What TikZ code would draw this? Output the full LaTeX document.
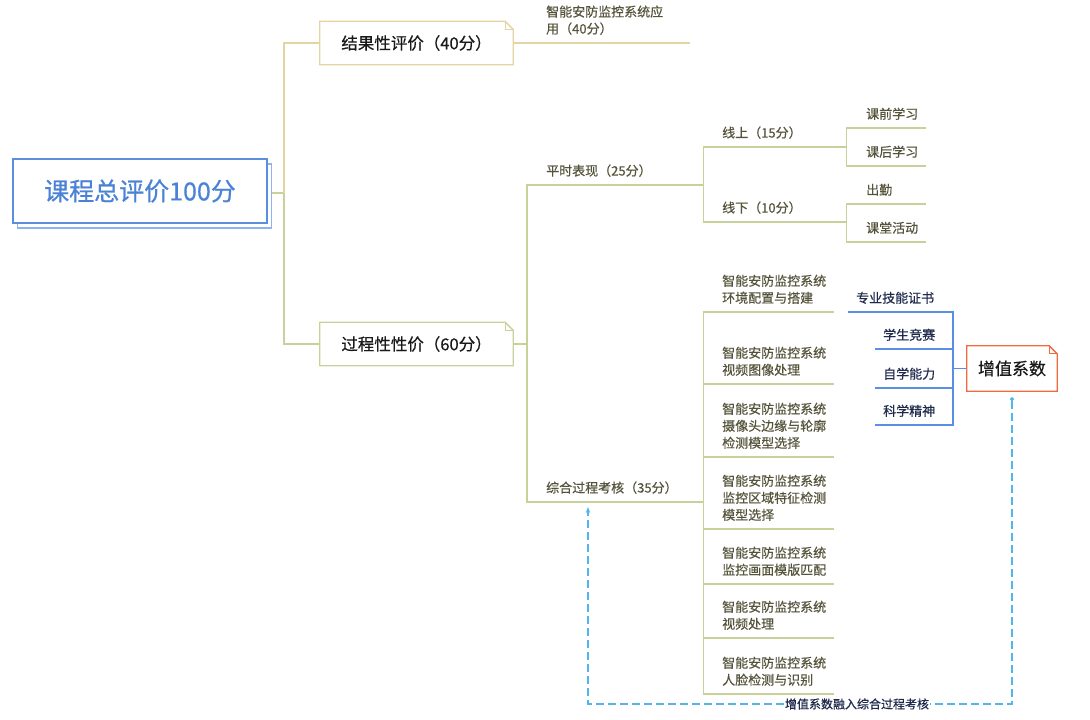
\documentclass[tikz,border=0pt]{standalone}
\usepackage{fontspec}
\newfontfamily\cjk[FakeBold=0.5]{Noto Sans CJK SC}
\usetikzlibrary{arrows.meta}
\definecolor{rootc}{HTML}{5B8EDC}
\definecolor{rootshade}{HTML}{8FB3EC}
\definecolor{roottext}{HTML}{4A82D6}
\definecolor{tanc}{HTML}{E3D4A2}
\definecolor{olivec}{HTML}{C7D199}
\definecolor{leaftext}{HTML}{55533A}
\definecolor{bluec}{HTML}{5A8FE3}
\definecolor{navy}{HTML}{1F2A4C}
\definecolor{orng}{HTML}{F2693B}
\definecolor{dashc}{HTML}{52B5EC}
\newcommand{\dogear}[2]{%
  \draw[#2, line width=1.3pt] (#1.south west) -- (#1.north west) -- ([xshift=-8pt]#1.north east) -- ([yshift=-8pt]#1.north east) -- (#1.south east) -- cycle;
  \draw[#2, line width=0.8pt] ([xshift=-8pt]#1.north east) |- ([yshift=-8pt]#1.north east);}

\begin{document}
\begin{tikzpicture}[x=1pt, y=-1pt,
      every node/.style={font=\cjk},
      rootbox/.style={draw=rootc, line width=1.2pt, fill=white, minimum width=254pt, minimum height=64pt, inner sep=0pt},
      note/.style={minimum width=193pt, minimum height=43pt, inner sep=0pt, font=\cjk\fontsize{16.5}{20}\selectfont, text=black!90},
      topic/.style={anchor=south west, align=left, inner xsep=0pt, inner ysep=8pt, font=\cjk\fontsize{13}{17}\selectfont, text=leaftext},
      skill/.style={anchor=south west, inner xsep=8pt, inner ysep=8pt, font=\cjk\fontsize{13}{17}\selectfont, text=navy},
      tanline/.style={tanc, line width=1.3pt},
      oline/.style={olivec, line width=1.3pt},
      bline/.style={bluec, line width=1.2pt},
      dashline/.style={dashc, line width=1.2pt, dash pattern=on 8pt off 4pt}]
    \useasboundingbox (0,0) rectangle (1090,720);
    % root
    \node[rootbox, draw=rootshade] (shade) at (144.5,196) {};
    \node[rootbox, font=\cjk\fontsize{25}{30}\selectfont, text=roottext] (root) at (140,191) {课程总评价100分};
    \node[note] (g1) at (416.5,43) {结果性评价（40分）};
    \node[note] (g2) at (416.5,344) {过程性性价（60分）};
    \dogear{g1}{tanc}
    \dogear{g2}{olivec}
    \coordinate (j0) at (284,193);
    \draw[oline] (shade.east |- j0) -- (j0);
    \draw[tanline] (j0) |- (g1.west);
    \draw[oline] (j0) |- (g2.west);
    % result branch
    \node[topic, text width=144pt] (a1) at (546,43) {智能安防监控系统应\\用（40分）};
    \draw[tanline] (g1.east) -- (a1.south east);
    % process branch
    \coordinate (j1) at (527,344);
    \node[topic, text width=157pt] (p1) at (546,185) {平时表现（25分）};
    \node[topic, text width=157pt] (p2) at (546,502) {综合过程考核（35分）};
    \draw[oline] (g2.east) -- (j1) |- (p1.south east);
    \draw[oline] (j1) |- (p2.south east);
    \node[topic, text width=124pt] (q1) at (722,147) {线上（15分）};
    \node[topic, text width=124pt] (q2) at (722,222) {线下（10分）};
    \draw[oline] (p1.south east) |- (q1.south east);
    \draw[oline] (p1.south east) |- (q2.south east);
    \node[topic, text width=60pt] (r1) at (866,128) {课前学习};
    \node[topic, text width=60pt] (r2) at (866,166) {课后学习};
    \node[topic, text width=60pt] (r3) at (866,204) {出勤};
    \node[topic, text width=60pt] (r4) at (866,242) {课堂活动};
    \draw[oline] (q1.south east) |- (r1.south east);
    \draw[oline] (q1.south east) |- (r2.south east);
    \draw[oline] (q2.south east) |- (r3.south east);
    \draw[oline] (q2.south east) |- (r4.south east);
    \node[topic, text width=112pt] (c1) at (722,312) {智能安防监控系统\\环境配置与搭建};
    \node[topic, text width=112pt] (c2) at (722,384) {智能安防监控系统\\视频图像处理};
    \node[topic, text width=112pt] (c3) at (722,457) {智能安防监控系统\\摄像头边缘与轮廓\\检测模型选择};
    \node[topic, text width=112pt] (c4) at (722,529) {智能安防监控系统\\监控区域特征检测\\模型选择};
    \node[topic, text width=112pt] (c5) at (722,584) {智能安防监控系统\\监控画面模版匹配};
    \node[topic, text width=112pt] (c6) at (722,638) {智能安防监控系统\\视频处理};
    \node[topic, text width=112pt] (c7) at (722,694) {智能安防监控系统\\人脸检测与识别};
    \foreach \i in {1,...,7}
      \draw[oline] (p2.south east) |- (c\i.south east);
    % added value
    \node[minimum width=90pt, minimum height=45pt, inner sep=0pt, font=\cjk\fontsize{17}{20}\selectfont, text=black!90] (zz) at (1012,368.5) {增值系数};
    \dogear{zz}{orng}
    \node[skill] (s1) at (848,312) {专业技能证书};
    \node[skill] (s2) at (875,349) {学生竞赛};
    \node[skill] (s3) at (875,388) {自学能力};
    \node[skill] (s4) at (875,425) {科学精神};
    \coordinate (bj) at (953,368.5);
    \draw[bline] (zz.west) -- (bj);
    \foreach \i in {1,...,4}
      \draw[bline] (bj) |- (s\i.south west);
    % feedback
    \node[font=\cjk\fontsize{12}{14}\selectfont, text=navy, fill=white, inner sep=1pt] (dl) at (857,704) {增值系数融入综合过程考核};
    \coordinate (dend) at (588,507);
    \draw[dashline, {Circle[length=4pt]}-] ([yshift=-6pt]zz.south) |- (dl.east);
    \draw[dashline, -{Stealth[length=6pt]}] (dl.west) -| (dend);
  \end{tikzpicture}
\end{document}
